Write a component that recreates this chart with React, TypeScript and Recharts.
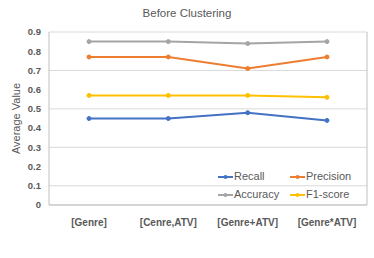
import { LineChart, Line, XAxis, YAxis, CartesianGrid } from "recharts";

const categories = ["[Genre]", "[Cenre,ATV]", "[Genre+ATV]", "[Genre*ATV]"];
const recall = [0.45, 0.45, 0.48, 0.44];
const precision = [0.77, 0.77, 0.71, 0.77];
const accuracy = [0.85, 0.85, 0.84, 0.85];
const f1score = [0.57, 0.57, 0.57, 0.56];
const yTicks = [0, 0.1, 0.2, 0.3, 0.4, 0.5, 0.6, 0.7, 0.8, 0.9];

const series = [
  { key: "Recall", values: recall, color: "#4472C4" },
  { key: "Precision", values: precision, color: "#ED7D31" },
  { key: "Accuracy", values: accuracy, color: "#A5A5A5" },
  { key: "F1-score", values: f1score, color: "#FFC000" },
];

const data = categories.map((name, i) => {
  const row: Record<string, string | number> = { name };
  series.forEach((s) => (row[s.key] = s.values[i]));
  return row;
});

const FONT = "'Liberation Sans', Arial, sans-serif";
const TEXT = "#595959";

// legend sits inside the plot area, bottom right, 2 x 2
function LegendBox() {
  return (
    <>
      {series.map((s, i) => (
        <div
          key={s.key}
          style={{
            position: "absolute",
            left: 218 + (i % 2) * 72,
            top: 169 + Math.floor(i / 2) * 18,
            height: 15,
            display: "flex",
            alignItems: "center",
            fontFamily: FONT,
            fontSize: 11,
            lineHeight: "15px",
            color: TEXT,
          }}
        >
          <svg width={15} height={6} style={{ marginRight: 1, display: "block" }}>
            <line x1={0} y1={3} x2={15} y2={3} stroke={s.color} strokeWidth={2} />
            <circle cx={7.5} cy={3} r={2} fill={s.color} />
          </svg>
          <span>{s.key}</span>
        </div>
      ))}
    </>
  );
}

export default function App() {
  return (
    <div style={{ position: "absolute", left: 0, top: 0, width: 374, height: 258, background: "#fff" }}>
      <div
        style={{
          position: "absolute",
          top: 7,
          left: 0,
          width: 374,
          textAlign: "center",
          fontFamily: FONT,
          fontSize: 11.5,
          color: TEXT,
        }}
      >
        Before Clustering
      </div>
      <LineChart
        width={374}
        height={258}
        data={data}
        margin={{ top: 32, right: 7, bottom: 23, left: 19 }}
      >
        <CartesianGrid vertical={false} stroke="#D9D9D9" />
        <CartesianGrid
          horizontal={false}
          stroke="#BFBFBF"
          verticalCoordinatesGenerator={({ offset }: any) => [offset.left, offset.left + offset.width]}
        />
        <XAxis
          dataKey="name"
          height={30}
          padding={{ left: 40, right: 40 }}
          axisLine={{ stroke: "#BFBFBF" }}
          tickLine={false}
          tickMargin={8}
          tick={{ fill: TEXT, fontSize: 10, fontWeight: "bold", fontFamily: FONT }}
          interval={0}
        />
        <YAxis
          width={30}
          domain={[0, 0.9]}
          ticks={yTicks}
          axisLine={false}
          tickLine={false}
          tick={{ fill: TEXT, fontSize: 9.5, fontWeight: "bold", fontFamily: FONT }}
          label={{
            value: "Average Value",
            angle: -90,
            position: "insideLeft",
            dx: -8,
            style: { textAnchor: "middle", fill: TEXT, fontSize: 11, fontFamily: FONT },
          }}
        />
        {series.map((s) => (
          <Line
            key={s.key}
            dataKey={s.key}
            stroke={s.color}
            strokeWidth={2}
            dot={{ r: 2, fill: s.color, stroke: s.color, strokeWidth: 1 }}
            isAnimationActive={false}
          />
        ))}
      </LineChart>
      <LegendBox />
    </div>
  );
}
